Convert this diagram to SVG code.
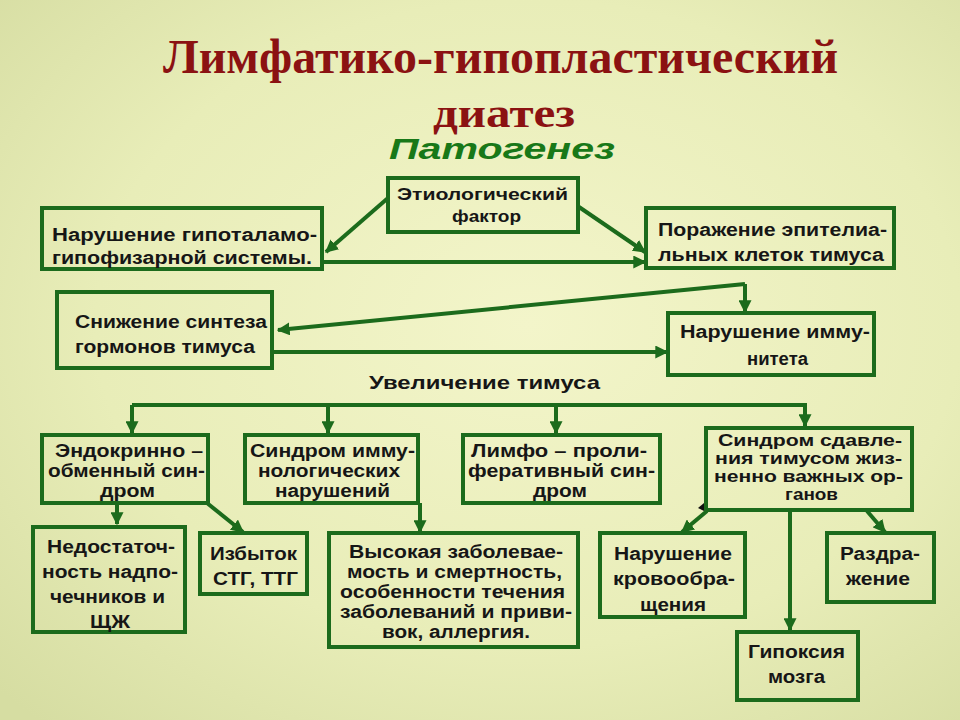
<svg xmlns="http://www.w3.org/2000/svg" width="960" height="720" viewBox="0 0 960 720">
<defs>
<radialGradient id="bg" cx="0.55" cy="0.45" r="0.75">
<stop offset="0" stop-color="#f3f5ca"/>
<stop offset="0.6" stop-color="#e8edb8"/>
<stop offset="1" stop-color="#d6dda2"/>
</radialGradient>
<marker id="a" viewBox="0 0 10 10" refX="9" refY="5" markerWidth="13" markerHeight="13" markerUnits="userSpaceOnUse" orient="auto-start-reverse">
<path d="M0,0 L10,5 L0,10 z" fill="#1c6b1c"/>
</marker>
<style>
.box{fill:none;stroke:#1c6b1c;stroke-width:4}
.t{font-family:"Liberation Sans",Arial,sans-serif;font-weight:bold;font-size:18px;fill:#161616}
.s{font-size:16px}
.c{fill:none;stroke:#1c6b1c;stroke-width:4;marker-end:url(#a)}
.title{font-family:"Liberation Serif","Times New Roman",serif;font-weight:bold;fill:#8b1212}
</style>
</defs>
<rect width="960" height="720" fill="url(#bg)"/>
<g id="title">
<text class="title" x="163" y="73" font-size="48" textLength="675" lengthAdjust="spacingAndGlyphs">Лимфатико-гипопластический</text>
<text class="title" x="433" y="127" font-size="42" textLength="142" lengthAdjust="spacingAndGlyphs">диатез</text>
<text x="389" y="159" textLength="226" lengthAdjust="spacingAndGlyphs" style="font-family:'Liberation Sans',Arial,sans-serif;font-weight:bold;font-style:italic;font-size:29px;fill:#187818">Патогенез</text>
</g>
<g id="connectors">
<path class="c" d="M388,198 L326,252"/>
<path class="c" d="M579,207 L645,252"/>
<path class="c" d="M322,262 L645,262"/>
<path class="c" d="M745,284 L278,330"/>
<path class="c" d="M745,284 L745,312"/>
<path class="c" d="M272,352 L667,352"/>
<path d="M132,405 L805,405" fill="none" stroke="#1c6b1c" stroke-width="4"/>
<path class="c" d="M132,405 L132,433"/>
<path class="c" d="M328,405 L328,433"/>
<path class="c" d="M556,405 L556,433"/>
<path class="c" d="M805,403 L805,426"/>
<path class="c" d="M117,503 L117,524"/>
<path class="c" d="M207,503 L243,532"/>
<path class="c" d="M420,503 L420,532"/>
<path class="c" d="M707,511 L682,532"/>
<path class="c" d="M790,510 L790,630"/>
<path class="c" d="M867,511 L885,532"/>
<path d="M698,508 L704,503 L704,511 z" fill="#111"/>
</g>
<g id="n1"><rect class="box" x="388" y="178" width="190" height="54"/>
<text class="t s" x="397" y="200" textLength="171" lengthAdjust="spacingAndGlyphs">Этиологический</text>
<text class="t s" x="452" y="222" textLength="69" lengthAdjust="spacingAndGlyphs">фактор</text></g>
<g id="n2"><rect class="box" x="42" y="208" width="280" height="61"/>
<text class="t" x="52" y="241" textLength="265" lengthAdjust="spacingAndGlyphs">Нарушение гипоталамо-</text>
<text class="t" x="52" y="264" textLength="260" lengthAdjust="spacingAndGlyphs">гипофизарной системы.</text></g>
<g id="n3"><rect class="box" x="646" y="208" width="248" height="60"/>
<text class="t" x="658" y="236" textLength="229" lengthAdjust="spacingAndGlyphs">Поражение эпителиа-</text>
<text class="t" x="658" y="261" textLength="226" lengthAdjust="spacingAndGlyphs">льных клеток тимуса</text></g>
<g id="n4"><rect class="box" x="57" y="292" width="215" height="76"/>
<text class="t" x="75" y="328" textLength="192" lengthAdjust="spacingAndGlyphs">Снижение синтеза</text>
<text class="t" x="75" y="353" textLength="180" lengthAdjust="spacingAndGlyphs">гормонов тимуса</text></g>
<g id="n5"><rect class="box" x="668" y="313" width="206" height="62"/>
<text class="t" x="680" y="338" textLength="190" lengthAdjust="spacingAndGlyphs">Нарушение имму-</text>
<text class="t" x="747" y="365" textLength="61" lengthAdjust="spacingAndGlyphs">нитета</text></g>
<g id="n6"><text class="t" x="369" y="389" textLength="231" lengthAdjust="spacingAndGlyphs" style="font-size:19px">Увеличение тимуса</text></g>
<g id="n7"><rect class="box" x="42" y="435" width="166" height="68"/>
<text class="t" x="55" y="457" textLength="148" lengthAdjust="spacingAndGlyphs">Эндокринно –</text>
<text class="t" x="48" y="477" textLength="157" lengthAdjust="spacingAndGlyphs">обменный син-</text>
<text class="t" x="100" y="497" textLength="55" lengthAdjust="spacingAndGlyphs">дром</text></g>
<g id="n8"><rect class="box" x="245" y="435" width="173" height="68"/>
<text class="t" x="250" y="457" textLength="165" lengthAdjust="spacingAndGlyphs">Синдром имму-</text>
<text class="t" x="258" y="477" textLength="142" lengthAdjust="spacingAndGlyphs">нологических</text>
<text class="t" x="275" y="497" textLength="115" lengthAdjust="spacingAndGlyphs">нарушений</text></g>
<g id="n9"><rect class="box" x="463" y="435" width="197" height="68"/>
<text class="t" x="471" y="457" textLength="176" lengthAdjust="spacingAndGlyphs">Лимфо – проли-</text>
<text class="t" x="468" y="477" textLength="187" lengthAdjust="spacingAndGlyphs">феративный син-</text>
<text class="t" x="533" y="497" textLength="54" lengthAdjust="spacingAndGlyphs">дром</text></g>
<g id="n10"><rect class="box" x="706" y="428" width="206" height="82"/>
<text class="t s" x="718" y="446" textLength="184" lengthAdjust="spacingAndGlyphs">Синдром сдавле-</text>
<text class="t s" x="715" y="464" textLength="187" lengthAdjust="spacingAndGlyphs">ния тимусом жиз-</text>
<text class="t s" x="714" y="482" textLength="189" lengthAdjust="spacingAndGlyphs">ненно важных ор-</text>
<text class="t s" x="785" y="500" textLength="53" lengthAdjust="spacingAndGlyphs">ганов</text></g>
<g id="n11"><rect class="box" x="33" y="527" width="152" height="105"/>
<text class="t" x="47" y="553" textLength="128" lengthAdjust="spacingAndGlyphs">Недостаточ-</text>
<text class="t" x="42" y="578" textLength="136" lengthAdjust="spacingAndGlyphs">ность надпо-</text>
<text class="t" x="50" y="603" textLength="115" lengthAdjust="spacingAndGlyphs">чечников и</text>
<text class="t" x="90" y="628" textLength="40" lengthAdjust="spacingAndGlyphs">ЩЖ</text></g>
<g id="n12"><rect class="box" x="200" y="533" width="107" height="61"/>
<text class="t" x="210" y="560" textLength="87" lengthAdjust="spacingAndGlyphs">Избыток</text>
<text class="t" x="213" y="585" textLength="85" lengthAdjust="spacingAndGlyphs">СТГ, ТТГ</text></g>
<g id="n13"><rect class="box" x="329" y="533" width="249" height="114"/>
<text class="t" x="349" y="558" textLength="214" lengthAdjust="spacingAndGlyphs">Высокая заболевае-</text>
<text class="t" x="347" y="578" textLength="215" lengthAdjust="spacingAndGlyphs">мость и смертность,</text>
<text class="t" x="340" y="598" textLength="225" lengthAdjust="spacingAndGlyphs">особенности течения</text>
<text class="t" x="340" y="618" textLength="232" lengthAdjust="spacingAndGlyphs">заболеваний и приви-</text>
<text class="t" x="382" y="638" textLength="148" lengthAdjust="spacingAndGlyphs">вок, аллергия.</text></g>
<g id="n14"><rect class="box" x="600" y="533" width="145" height="84"/>
<text class="t" x="614" y="560" textLength="118" lengthAdjust="spacingAndGlyphs">Нарушение</text>
<text class="t" x="613" y="585" textLength="122" lengthAdjust="spacingAndGlyphs">кровообра-</text>
<text class="t" x="640" y="611" textLength="66" lengthAdjust="spacingAndGlyphs">щения</text></g>
<g id="n15"><rect class="box" x="827" y="533" width="107" height="69"/>
<text class="t" x="840" y="560" textLength="80" lengthAdjust="spacingAndGlyphs">Раздра-</text>
<text class="t" x="846" y="585" textLength="64" lengthAdjust="spacingAndGlyphs">жение</text></g>
<g id="n16"><rect class="box" x="737" y="632" width="121" height="68"/>
<text class="t" x="748" y="658" textLength="97" lengthAdjust="spacingAndGlyphs">Гипоксия</text>
<text class="t" x="768" y="683" textLength="57" lengthAdjust="spacingAndGlyphs">мозга</text></g>
</svg>
